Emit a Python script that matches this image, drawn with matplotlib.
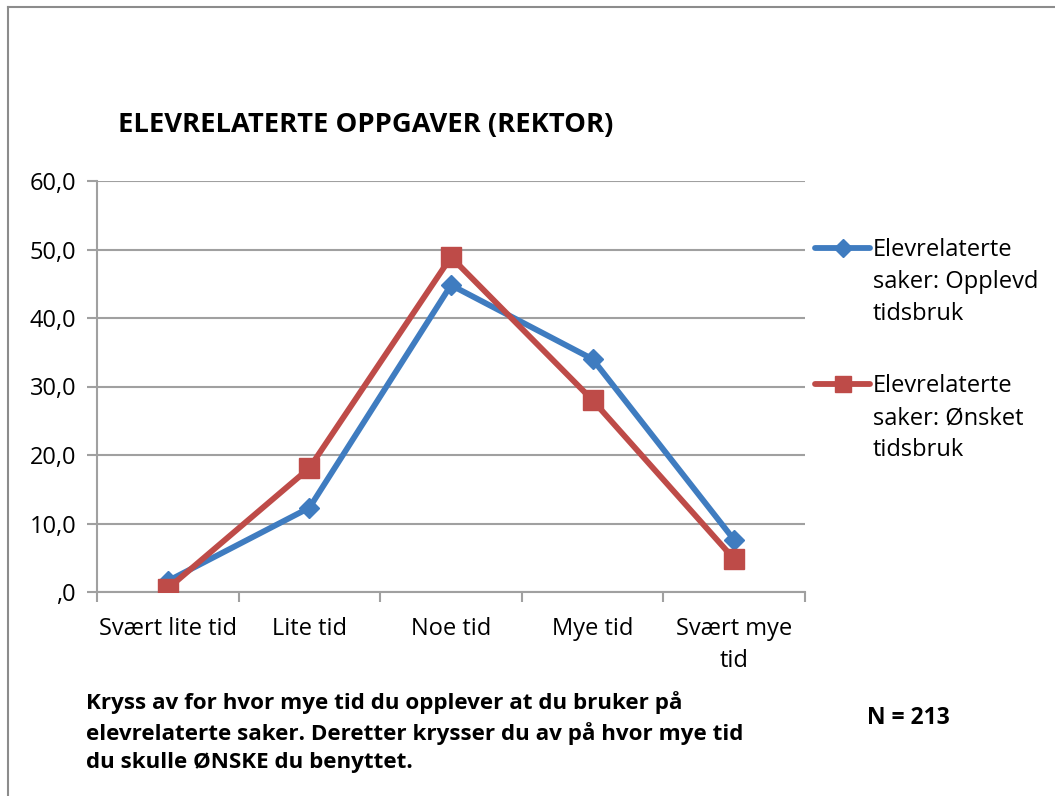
import matplotlib
matplotlib.use("Agg")
import matplotlib.pyplot as plt
from matplotlib.lines import Line2D

categories = ["Svært lite tid", "Lite tid", "Noe tid", "Mye tid", "Svært mye\ntid"]
opplevd = [1.6, 12.3, 44.8, 34.0, 7.6]
onsket = [0.5, 18.1, 48.9, 28.0, 4.8]
yticks = [0, 10, 20, 30, 40, 50, 60]
ytick_labels = [",0", "10,0", "20,0", "30,0", "40,0", "50,0", "60,0"]
series_labels = ["Elevrelaterte\nsaker: Opplevd\ntidsbruk", "Elevrelaterte\nsaker: Ønsket\ntidsbruk"]
title = "ELEVRELATERTE OPPGAVER (REKTOR)"
note = ("Kryss av for hvor mye tid du opplever at du bruker på\n"
        "elevrelaterte saker. Deretter krysser du av på hvor mye tid\n"
        "du skulle ØNSKE du benyttet.")
n_text = "N = 213"

plt.rcParams['font.family'] = ['Open Sans', 'DejaVu Sans']
W, H = 1055, 796
fig = plt.figure(figsize=(W / 100, H / 100), dpi=100)

blue = "#3F7CC0"
red = "#BE4B48"
grid_c = "#A0A0A0"

def fx(px):
    return px / W

def fy(py):
    return 1 - py / H

# outer border
fig.add_artist(Line2D([fx(8), fx(8)], [0, fy(7)], color="#8C8C8C", lw=1.5, transform=fig.transFigure))
fig.add_artist(Line2D([fx(8), 1], [fy(7), fy(7)], color="#8C8C8C", lw=1.5, transform=fig.transFigure))

ax = fig.add_axes([fx(97), fy(592), (805 - 97) / W, (592 - 181) / H])
x = list(range(len(categories)))
styles = [dict(color=blue, marker="D", markersize=10.5), dict(color=red, marker="s", markersize=14)]
for vals, st, z in zip([opplevd, onsket], styles, [3, 4]):
    ax.plot(x, vals, color=st["color"], lw=4.2, marker=st["marker"], markersize=st["markersize"],
            markerfacecolor=st["color"], markeredgecolor=st["color"], zorder=z)

ax.set_xlim(-0.5, len(categories) - 0.5)
ax.set_ylim(0, 60)
ax.set_yticks(yticks)
ax.set_yticklabels(ytick_labels, fontsize=17)
ax.set_xticks([i - 0.5 for i in range(len(categories) + 1)])
ax.set_xticklabels([])
ax.set_xticks(x, minor=True)
ax.set_xticklabels(categories, minor=True, fontsize=17, linespacing=1.45)
ax.tick_params(axis="x", which="minor", length=0, pad=18)
ax.tick_params(axis="x", which="major", length=7, width=1.5, color=grid_c, direction="out")
ax.tick_params(axis="y", length=7, width=1.5, color=grid_c, direction="out", pad=8)
ax.yaxis.grid(True, color=grid_c, lw=1.5)
ax.set_axisbelow(True)
for s in ["top", "right"]:
    ax.spines[s].set_visible(False)
for s in ["left", "bottom"]:
    ax.spines[s].set_color(grid_c)
    ax.spines[s].set_linewidth(1.5)

fig.text(fx(118), fy(125), title, fontsize=19.7, fontweight="bold", va="center", ha="left")

# legend (manual, handle aligned with first text line like Excel)
for lab, st, py in zip(series_labels, styles, [248, 384]):
    fig.add_artist(Line2D([fx(815), fx(870)], [fy(py), fy(py)], color=st["color"], lw=4.2,
                          transform=fig.transFigure, solid_capstyle="round"))
    fig.add_artist(Line2D([fx(842.5)], [fy(py)], color=st["color"], marker=st["marker"],
                          markersize=st["markersize"] * 0.85, transform=fig.transFigure))
    fig.text(fx(873), fy(py - 10), lab, fontsize=17, va="top", ha="left", linespacing=1.45)

fig.text(fx(86), fy(732), note, fontsize=16.1, fontweight="bold", va="center", ha="left",
         linespacing=1.42)
fig.text(fx(908), fy(718), n_text, fontsize=16.5, fontweight="bold", va="center", ha="center")

fig.savefig("out.png", dpi=100, facecolor="white")
